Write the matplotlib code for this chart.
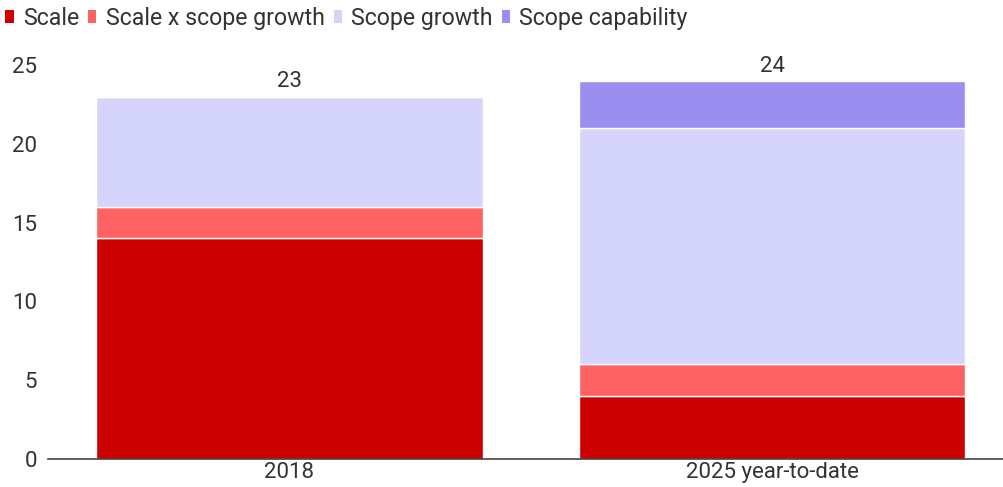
import matplotlib
matplotlib.use("Agg")
import matplotlib.pyplot as plt
from matplotlib.patches import Patch

categories = ["2018", "2025 year-to-date"]
series_names = ["Scale", "Scale x scope growth", "Scope growth", "Scope capability"]
scale = [14, 4]
scale_x_scope = [2, 2]
scope_growth = [7, 15]
scope_capability = [0, 3]
totals = [23, 24]
y_ticks = [0, 5, 10, 15, 20, 25]

colors = ["#cc0000", "#ff6262", "#d5d5fb", "#9a8ff0"]
text_color = "#333333"

plt.rcParams["font.family"] = ["Roboto", "DejaVu Sans"]

fig = plt.figure(figsize=(10.04, 4.87), dpi=100)
ax = fig.add_axes([48 / 1004, 28 / 487, 1 - 48 / 1004, (459 - 65) / 487])

x = list(range(len(categories)))
bottom = [0] * len(categories)
for vals, col in zip([scale, scale_x_scope, scope_growth, scope_capability], colors):
    ax.bar(x, vals, width=0.8, bottom=bottom, color=col,
           edgecolor="white", linewidth=1.0, zorder=2)
    bottom = [b + v for b, v in zip(bottom, vals)]

for xi, t in zip(x, totals):
    ax.annotate(str(t), (xi, t), xytext=(0, 3), textcoords="offset points",
                ha="center", va="bottom", fontsize=16, color=text_color,
                annotation_clip=False)

ax.set_xlim(-0.5, 1.48)
ax.set_ylim(0, 25)
ax.set_yticks(y_ticks)
ax.set_xticks(x)
ax.set_xticklabels(categories)
ax.tick_params(axis="both", length=0, labelsize=16, colors=text_color)
ax.tick_params(axis="y", pad=8)
ax.tick_params(axis="x", pad=2)
for side in ["top", "right", "left"]:
    ax.spines[side].set_visible(False)
ax.spines["bottom"].set_color("#444444")
ax.spines["bottom"].set_linewidth(1.2)
ax.spines["bottom"].set_zorder(3)

handles = [Patch(facecolor=c, edgecolor="none") for c in colors]
fig.legend(handles, series_names, loc="upper left", bbox_to_anchor=(0.002, 0.993),
           ncol=4, frameon=False, fontsize=16.7, handlelength=0.35, handleheight=0.5,
           handletextpad=0.4, columnspacing=0.4, borderaxespad=0.0, borderpad=0.15,
           labelcolor=text_color)

fig.savefig("out.png", dpi=100, facecolor="white")
